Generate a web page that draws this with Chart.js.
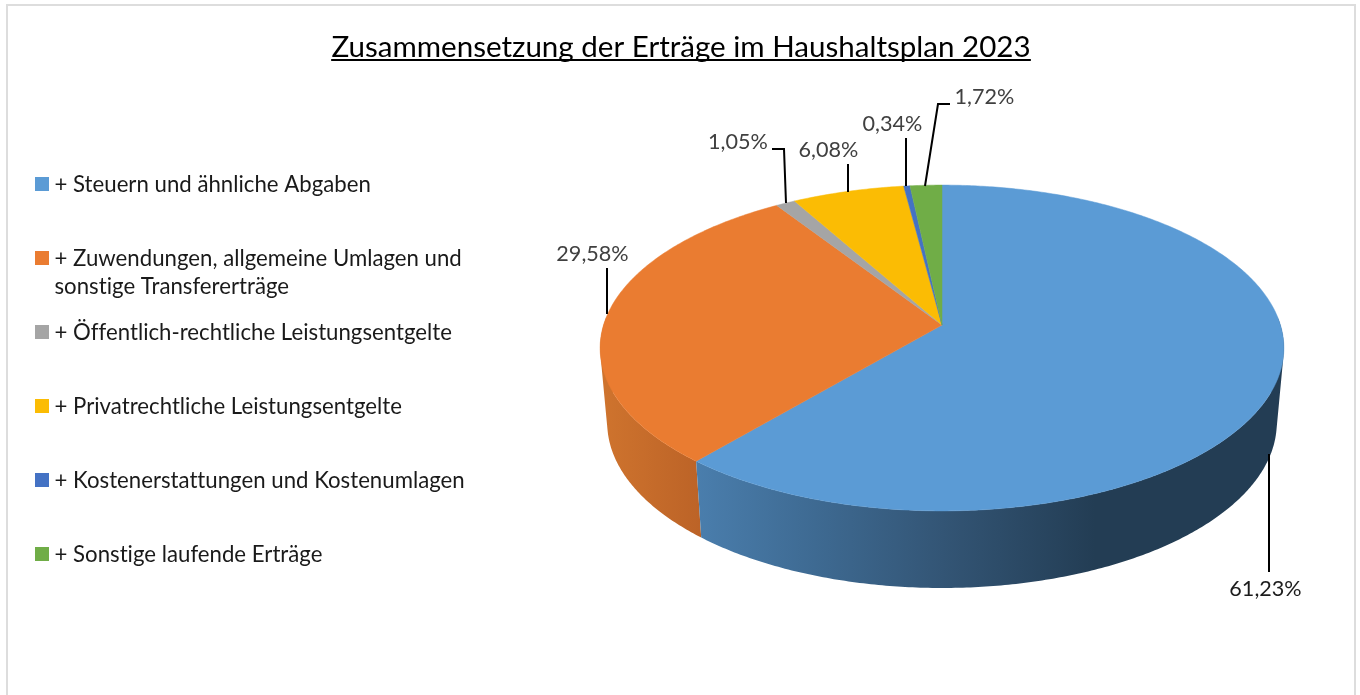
<!DOCTYPE html>
<html lang="de">
<head>
<meta charset="utf-8">
<title>Zusammensetzung der Erträge im Haushaltsplan 2023</title>
<style>html,body{margin:0;padding:0;background:#fff}canvas{display:block}</style>
<script src="https://cdn.jsdelivr.net/npm/chart.js@4"></script>
</head>
<body>
<canvas id="c" width="1360" height="695"></canvas>
<script>
const titleText = 'Zusammensetzung der Erträge im Haushaltsplan 2023';
const categories = [
  '+ Steuern und ähnliche Abgaben',
  ['+ Zuwendungen, allgemeine Umlagen und', 'sonstige Transfererträge'],
  '+ Öffentlich-rechtliche Leistungsentgelte',
  '+ Privatrechtliche Leistungsentgelte',
  '+ Kostenerstattungen und Kostenumlagen',
  '+ Sonstige laufende Erträge'
];
const shares = [61.23, 29.58, 1.05, 6.08, 0.34, 1.72];
const sliceColors = ['#5B9BD5', '#EA7C31', '#A5A5A5', '#FBBC04', '#4472C4', '#70AD47'];

const FONT = 'Lato, Carlito, sans-serif';
const TITLE_SIZE = 29.55;
const TEXT_SIZE = 22.2;
const VALUE_SIZE = 21.6;
// label centre [x, y] and leader polyline, per slice
const labelLayout = [
  {c:[1265.5,589], color:'#1c1c1c', line:[[1269,454],[1269,572]]},
  {c:[592.5,254], color:'#404040', line:[[607,268],[607,314]]},
  {c:[738,142], color:'#404040', line:[[772,149],[784,149],[786,203]]},
  {c:[828.5,150], color:'#404040', line:[[848,164],[848,192]]},
  {c:[892.5,124], color:'#404040', line:[[906,138],[906,186]]},
  {c:[984.5,97], color:'#404040', line:[[950,104],[938,104],[925,186]]}
];
const DX = 261; // pie sits right of the chart's centre, legend on the left
const persp = {ax:338.5/160, ay:159.7/160, k:0.141, dy:0};
const base  = {ax:331.5/160, ay:162/160, k:0.141, dy:74.4};

function project(el, angle, p){
  const u = Math.cos(angle), v = Math.sin(angle), w = 1 - p.k*v;
  return [el.x + DX + p.ax*el.outerRadius*u/w, el.y + p.dy + p.ay*el.outerRadius*v/w];
}
function steps(a,b){
  const n = Math.max(2, Math.ceil((b-a)/0.01));
  const out=[]; for(let i=0;i<=n;i++) out.push(a+(b-a)*i/n); return out;
}
function area(q){
  let s=0; q.forEach((p,i)=>{const r=q[(i+1)%q.length]; s+=p[0]*r[1]-r[0]*p[1];}); return s;
}

const pie3d = {
  id:'pie3d',
  beforeDatasetsDraw(chart){
    const ctx = chart.ctx, arcs = chart.getDatasetMeta(0).data;
    const blue = ctx.createLinearGradient(695,0,1095,0);
    blue.addColorStop(0,'#4A7EAD'); blue.addColorStop(0.3,'#3E6A92');
    blue.addColorStop(0.62,'#335575'); blue.addColorStop(1,'#233D54');
    const orange = ctx.createLinearGradient(600,0,700,0);
    orange.addColorStop(0,'#CF742E'); orange.addColorStop(1,'#BC6327');
    const sideFill = [blue, orange];
    // side wall: only the part facing the viewer
    [1,0].forEach(i=>{
      const el = arcs[i], as = steps(el.startAngle, el.endAngle);
      ctx.fillStyle = sideFill[i];
      ctx.beginPath();
      for(let j=0;j<as.length-1;j++){
        if(Math.sin(as[j])<-0.05 && Math.sin(as[j+1])<-0.05) continue;
        let q=[project(el,as[j],persp), project(el,as[j+1],persp),
               project(el,as[j+1],base), project(el,as[j],base)];
        if(area(q)<0) q.reverse();
        ctx.moveTo(...q[0]); ctx.lineTo(...q[1]); ctx.lineTo(...q[2]); ctx.lineTo(...q[3]);
        ctx.closePath();
      }
      ctx.fill();
    });
    // top face
    arcs.forEach((el,i)=>{
      ctx.beginPath(); ctx.moveTo(el.x+DX, el.y);
      steps(el.startAngle, el.endAngle).forEach(a=>ctx.lineTo(...project(el,a,persp)));
      ctx.closePath();
      ctx.fillStyle = sliceColors[i]; ctx.fill();
      ctx.strokeStyle = sliceColors[i]; ctx.lineWidth = 0.5; ctx.stroke();
    });
    return false;
  },
  afterDraw(chart){
    const ctx = chart.ctx;
    ctx.save();
    if('letterSpacing' in ctx) ctx.letterSpacing='0.01px'; // no "ti" ligature
    // frame
    ctx.strokeStyle='#DDDDDD'; ctx.lineWidth=2;
    ctx.strokeRect(7,5,1348,720);
    // title underline
    ctx.font = `${TITLE_SIZE}px ${FONT}`;
    const w = ctx.measureText(titleText).width;
    ctx.fillStyle='#000'; ctx.fillRect(681-w/2,59,w,2);
    // leaders and value labels
    ctx.textAlign='center'; ctx.textBaseline='middle';
    ctx.font = `${VALUE_SIZE}px ${FONT}`;
    labelLayout.forEach((l,i)=>{
      ctx.strokeStyle='#000'; ctx.lineWidth=2; ctx.beginPath();
      l.line.forEach((p,j)=> j? ctx.lineTo(...p):ctx.moveTo(...p)); ctx.stroke();
      ctx.fillStyle=l.color;
      ctx.fillText(shares[i].toFixed(2).replace('.',',')+'%', l.c[0], l.c[1]);
    });
    // legend
    ctx.textAlign='left'; ctx.font = `${TEXT_SIZE}px ${FONT}`;
    categories.forEach((cat,i)=>{
      const y = 184 + 74*i;
      ctx.fillStyle = sliceColors[i]; ctx.fillRect(35,y-7,14,14);
      ctx.fillStyle = '#1a1a1a';
      [].concat(cat).forEach((ln,j)=>ctx.fillText(ln,54.5,y+0.8+28*j));
    });
    ctx.restore();
  }
};

new Chart(document.getElementById('c'),{
  type:'pie',
  data:{labels:categories,datasets:[{data:shares,backgroundColor:sliceColors,borderWidth:0}]},
  plugins:[pie3d],
  options:{
    responsive:false, animation:false,
    layout:{padding:{left:2,right:0,top:29.3,bottom:210}},
    plugins:{
      legend:{display:false}, tooltip:{enabled:false},
      title:{display:true,text:titleText,color:'#000',
        font:{family:FONT,size:TITLE_SIZE,weight:'normal',lineHeight:1.2},
        padding:{top:0,bottom:100.3}}
    }
  }
});
</script>
</body>
</html>
